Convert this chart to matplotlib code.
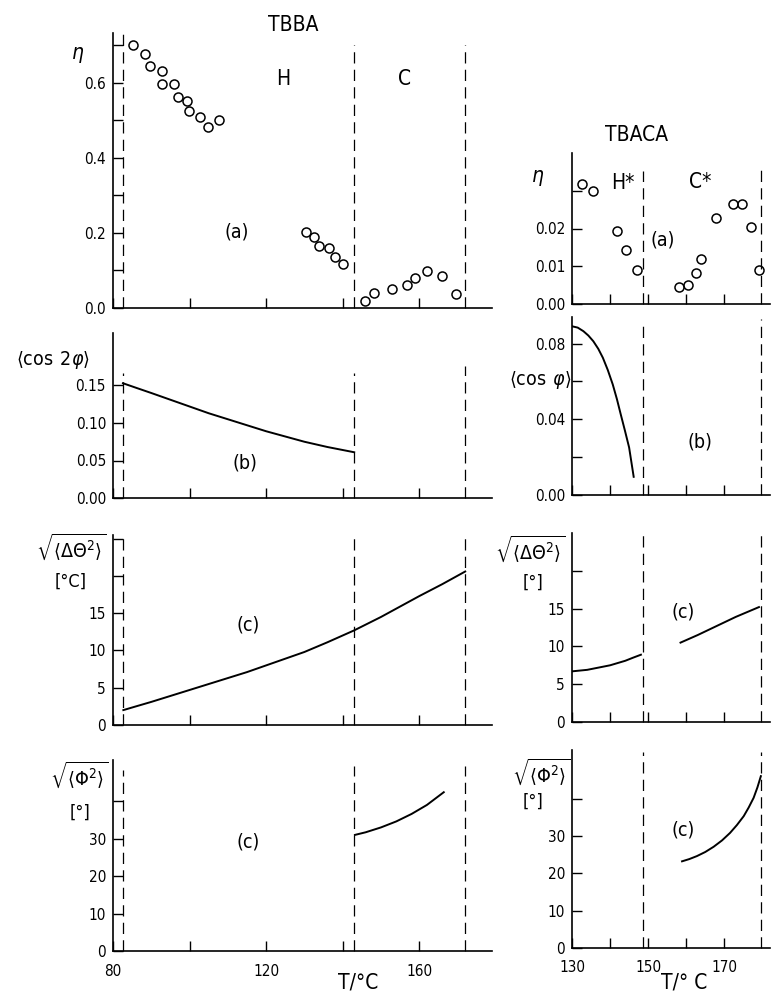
import numpy as np
import matplotlib
matplotlib.use("Agg")
import matplotlib.pyplot as plt

plt.rcParams['font.family'] = ['DejaVu Sans']
plt.rcParams['font.stretch'] = 'condensed'
plt.rcParams['mathtext.fontset'] = 'dejavusans'

W, H = 774, 999

# ---- TBBA data (left column) ----
tbba_eta_T = [85.2, 88.4, 89.7, 92.9, 92.9, 96.0, 96.9, 99.4, 99.9, 102.8, 104.9, 107.8,
              130.3, 132.5, 133.8, 136.3, 138.1, 140.2,
              145.8, 148.3, 152.8, 156.7, 159.0, 161.9, 166.0, 169.5]
tbba_eta = [0.702, 0.676, 0.644, 0.633, 0.597, 0.596, 0.562, 0.553, 0.524, 0.509, 0.483, 0.502,
            0.203, 0.188, 0.166, 0.160, 0.135, 0.117,
            0.018, 0.040, 0.051, 0.062, 0.079, 0.098, 0.085, 0.036]
tbba_cos_T = [82.6, 86, 90, 95, 100, 105, 110, 115, 120, 125, 130, 136, 143]
tbba_cos = [0.153, 0.147, 0.140, 0.131, 0.122, 0.113, 0.105, 0.097, 0.089, 0.082, 0.075, 0.068, 0.061]
tbba_dth_T = [82.7, 86, 90, 95, 100, 105, 110, 115, 120, 125, 130, 136, 143, 150, 155, 160, 166, 172]
tbba_dth = [2.0, 2.5, 3.1, 3.9, 4.7, 5.5, 6.3, 7.1, 8.0, 8.9, 9.8, 11.1, 12.7, 14.5, 15.9, 17.3, 18.9, 20.6]
tbba_phi_T = [143.2, 146, 150, 154, 158, 162, 166.4]
tbba_phi = [31.0, 31.7, 33.0, 34.6, 36.6, 39.0, 42.4]
tbba_trans = [82.6, 143.0, 172.0]

# ---- TBACA data (right column) ----
tbaca_eta_T = [132.5, 135.4, 141.8, 144.3, 147.1,
               158.2, 160.4, 162.6, 163.9, 167.9, 172.3, 174.6, 177.1, 179.0]
tbaca_eta = [0.0317, 0.0299, 0.0193, 0.0142, 0.0091,
             0.0044, 0.0050, 0.0081, 0.0118, 0.0228, 0.0265, 0.0265, 0.0204, 0.0091]
tbaca_cos_T = [130, 131.5, 133, 134.3, 135.6, 136.9, 138.1, 139.4, 140.7, 141.8, 142.8, 143.9, 145.0, 146.2]
tbaca_cos = [0.0891, 0.0884, 0.0865, 0.0842, 0.0812, 0.0772, 0.0725, 0.0660, 0.0584, 0.0506, 0.0426, 0.0340, 0.0251, 0.0096]
tbaca_dth1_T = [130, 132, 134, 136, 138, 140, 142, 144, 146, 148.1]
tbaca_dth1 = [6.7, 6.8, 6.9, 7.1, 7.3, 7.5, 7.8, 8.1, 8.5, 8.9]
tbaca_dth2_T = [158.5, 163, 168, 173, 179.1]
tbaca_dth2 = [10.5, 11.5, 12.7, 13.9, 15.2]
tbaca_phi_T = [158.9, 160.8, 162.8, 165.0, 167.2, 169.4, 171.5, 173.3, 175.1, 176.4, 177.7, 178.7, 179.6]
tbaca_phi = [23.2, 23.8, 24.6, 25.7, 27.1, 28.8, 30.8, 32.9, 35.3, 37.6, 40.2, 43.0, 46.0]
tbaca_trans = [148.6, 179.6]

fig = plt.figure(figsize=(W / 100, H / 100), dpi=100)


def add_ax(x0, x1, y0, y1):
    return fig.add_axes([x0 / W, 1 - y1 / H, (x1 - x0) / W, (y1 - y0) / H])


def ftext(x, y, s, size=13, **kw):
    fig.text(x / W, 1 - y / H, s, fontsize=size, ha='center', va='center', **kw)


def style(ax, xlim, ylim, xticks, yticks, ylabels, xlabels=None):
    ax.set_xlim(*xlim)
    ax.set_ylim(*ylim)
    for s in ['top', 'right']:
        ax.spines[s].set_visible(False)
    for s in ['left', 'bottom']:
        ax.spines[s].set_linewidth(1.2)
    ax.set_yticks(yticks)
    ax.set_yticklabels(ylabels)
    ax.set_xticks(xticks)
    if xlabels is None:
        ax.set_xticklabels([''] * len(xticks))
    else:
        ax.set_xticklabels(xlabels)
    ax.tick_params(direction='in', length=7, width=1.0, labelsize=11)
    ax.tick_params(axis='x', pad=9)
    ax.tick_params(axis='y', pad=5)


def vlines(ax, xs, tops):
    for x, t in zip(xs, tops):
        ax.axvline(x, ymin=0, ymax=t, color='black', lw=0.9,
                   dashes=(9, 5), clip_on=False)


LX = (113, 492)
RX = (572, 770)
left_xt = [80, 100, 120, 140, 160]
right_xt = [130, 140, 150, 160, 170]
mk = dict(ls='none', marker='o', ms=6.5, mfc='none', mec='black', mew=1.1)
ln = dict(color='black', lw=1.4)

# left (a)
ax = add_ax(*LX, 33, 308)
ax.plot(tbba_eta_T, tbba_eta, **mk)
style(ax, (80, 179), (0, 0.733), left_xt, [0, 0.1, 0.2, 0.3, 0.4, 0.5, 0.6, 0.7],
      ['0.0', '', '0.2', '', '0.4', '', '0.6', ''])
vlines(ax, tbba_trans, [1.0, 0.955, 0.955])

# left (b)
ax = add_ax(*LX, 333, 498)
ax.plot(tbba_cos_T, tbba_cos, **ln)
style(ax, (80, 179), (0, 0.22), left_xt, [0, 0.05, 0.10, 0.15],
      ['0.00', '0.05', '0.10', '0.15'])
vlines(ax, tbba_trans, [0.76, 0.76, 0.80])

# left (c)
ax = add_ax(*LX, 535, 725)
ax.plot(tbba_dth_T, tbba_dth, **ln)
style(ax, (80, 179), (0, 25.5), left_xt, [0, 5, 10, 15, 20, 25],
      ['0', '5', '10', '15', '', ''])
vlines(ax, tbba_trans, [1.0, 1.0, 1.0])

# left (d)
ax = add_ax(*LX, 760, 951)
ax.plot(tbba_phi_T, tbba_phi, **ln)
style(ax, (80, 179), (0, 51), left_xt, [0, 10, 20, 30, 40],
      ['0', '10', '20', '30', ''], ['80', '', '120', '', '160'])
vlines(ax, tbba_trans, [0.95, 0.97, 0.97])

# right (a)
ax = add_ax(*RX, 153, 304)
ax.plot(tbaca_eta_T, tbaca_eta, **mk)
style(ax, (130, 182), (0, 0.040), right_xt, [0, 0.01, 0.02, 0.03],
      ['0.00', '0.01', '0.02', ''])
vlines(ax, tbaca_trans, [0.88, 0.93])

# right (b)
ax = add_ax(*RX, 317, 495)
ax.plot(tbaca_cos_T, tbaca_cos, **ln)
style(ax, (130, 182), (0, 0.094), right_xt, [0, 0.02, 0.04, 0.06, 0.08],
      ['0.00', '', '0.04', '', '0.08'])
vlines(ax, tbaca_trans, [0.97, 0.99])

# right (c)
ax = add_ax(*RX, 533, 722)
ax.plot(tbaca_dth1_T, tbaca_dth1, **ln)
ax.plot(tbaca_dth2_T, tbaca_dth2, **ln)
style(ax, (130, 182), (0, 25), right_xt, [0, 5, 10, 15, 20],
      ['0', '5', '10', '15', ''])
vlines(ax, tbaca_trans, [1.0, 1.0])

# right (d)
ax = add_ax(*RX, 750, 948)
ax.plot(tbaca_phi_T, tbaca_phi, **ln)
style(ax, (130, 182), (0, 53), right_xt, [0, 10, 20, 30, 40],
      ['0', '10', '20', '30', ''], ['130', '', '150', '', '170'])
vlines(ax, tbaca_trans, [0.99, 0.99])

# annotations, left column
ftext(293, 25, 'TBBA', 15)
ftext(283, 79, 'H', 15)
ftext(405, 79, 'C', 15)
ftext(237, 232, '(a)', 14)
ftext(78, 55, r'$\eta$', 15)
ftext(53, 360, r'$\langle\cos\;2\varphi\rangle$', 14)
ftext(245, 463, '(b)', 14)
ftext(71, 547, r'$\sqrt{\langle\Delta\Theta^2\rangle}$', 14)
ftext(71, 582, '[°C]', 13)
ftext(248, 625, '(c)', 14)
ftext(79, 775, r'$\sqrt{\langle\Phi^2\rangle}$', 14)
ftext(80, 813, '[°]', 13)
ftext(248, 842, '(c)', 14)
ftext(358, 982, 'T/°C', 15)

# annotations, right column
ftext(637, 135, 'TBACA', 15)
ftext(538, 178, r'$\eta$', 15)
ftext(623, 183, 'H*', 15)
ftext(700, 182, 'C*', 15)
ftext(663, 240, '(a)', 14)
ftext(540, 380, r'$\langle\cos\;\varphi\rangle$', 14)
ftext(700, 442, '(b)', 14)
ftext(530, 549, r'$\sqrt{\langle\Delta\Theta^2\rangle}$', 14)
ftext(533, 583, '[°]', 13)
ftext(683, 612, '(c)', 14)
ftext(541, 772, r'$\sqrt{\langle\Phi^2\rangle}$', 14)
ftext(533, 802, '[°]', 13)
ftext(683, 830, '(c)', 14)
ftext(684, 982, 'T/° C', 15)

fig.savefig('out.png', dpi=100)
